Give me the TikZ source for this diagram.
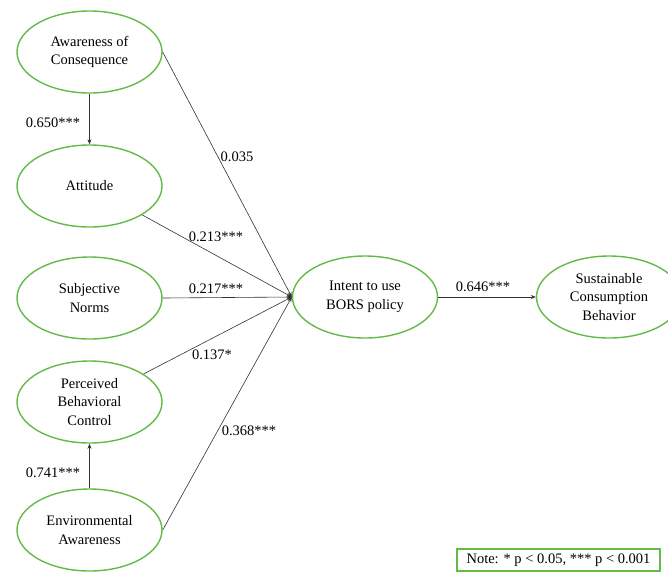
\documentclass[tikz,border=0pt]{standalone}
\usepackage{fontspec}
\setmainfont{Liberation Serif}
\usetikzlibrary{shapes.geometric, arrows.meta}
\definecolor{lgreen}{RGB}{98,186,72}
\tikzset{
	construct/.style={
		shape = ellipse,
		draw = lgreen,
		line width = 1.4pt,
		minimum width = 145pt,
		minimum height = 82pt,
		inner sep = 0pt,
		align = center
	},
	link/.style={
		draw = black!80,
		line width = 0.6pt,
		-{Stealth[length=5pt,width=4pt]}
	},
	coef/.style={
		inner sep = 0pt
	},
}
\tikzset{>=stealth}

\begin{document}
\begin{tikzpicture}[x=1pt, y=-1pt, font=\fontsize{14.5}{18.5}\selectfont]
    \useasboundingbox (0,0) rectangle (668,571);
    \node[construct] (aoc) at (89.5,52) {Awareness of\\Consequence};
    \node[construct] (att) at (89.5,186) {Attitude};
    \node[construct] (sn) at (89.5,298) {Subjective\\Norms};
    \node[construct] (pbc) at (89.5,402) {Perceived\\Behavioral\\Control};
    \node[construct] (ea) at (89.5,530) {Environmental\\Awareness};
    \node[construct] (int) at (365,297) {Intent to use\\BORS policy};
    \node[construct] (scb) at (609,297) {Sustainable\\Consumption\\Behavior};
    % antecedents
    \draw[link] (aoc) -- (att);
    \draw[link] (ea) -- (pbc);
    \node[coef] (c1) at (53,123) {0.650***};
    \node[coef] (c2) at (53,473) {0.741***};
    % paths into intent
    \draw[link] (aoc.east) -- (int.west);
    \draw[link] (att) -- (int.west);
    \draw[link] (sn.east) -- (int.west);
    \draw[link] (pbc) -- (int.west);
    \draw[link] (ea.east) -- (int.west);
    \node[coef] (c3) at (237,157) {0.035};
    \node[coef] (c4) at (216,237) {0.213***};
    \node[coef] (c5) at (216,289) {0.217***};
    \node[coef] (c6) at (212,355) {0.137*};
    \node[coef] (c7) at (249,431) {0.368***};
    % outcome
    \draw[link] (int) -- (scb);
    \node[coef] (c8) at (483,287) {0.646***};
    \node[draw=lgreen, line width=1.2pt, inner sep=3pt, minimum height=22pt,
      minimum width=203pt] (note) at (558.5,560) {Note: * p < 0.05, *** p < 0.001};
\end{tikzpicture}
\end{document}
